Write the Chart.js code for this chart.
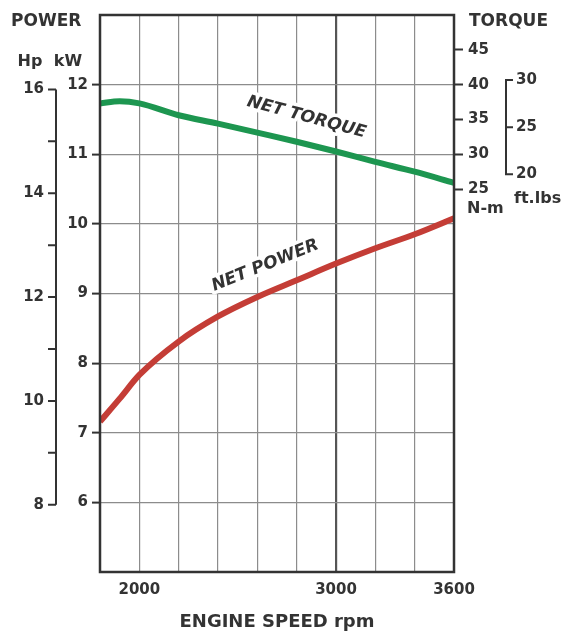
<!DOCTYPE html>
<html>
<head>
<meta charset="utf-8">
<script src="https://cdn.jsdelivr.net/npm/chart.js@4.4.1/dist/chart.umd.min.js"></script>
<style>
html, body { margin: 0; padding: 0; background: #fff; }
</style>
</head>
<body>
<canvas id="chart" width="563" height="633"></canvas>
<script>
// engine speed (rpm) and the two curves
let rpm = [1800, 1900, 2000, 2200, 2400, 2600, 2800, 3000, 3200, 3400, 3600];
let netTorqueNm = [37.3, 37.6, 37.3, 35.6, 34.4, 33.1, 31.8, 30.4, 28.9, 27.5, 25.9];
let netPowerKw = [7.16, 7.49, 7.83, 8.31, 8.67, 8.95, 9.19, 9.43, 9.65, 9.85, 10.08];

// tick labels
let rpmLabels = [2000, 3000, 3600];
let kwTicks = [6, 7, 8, 9, 10, 11, 12];
let nmTicks = [25, 30, 35, 40, 45];
let hpTicks = [8, 9, 10, 11, 12, 13, 14, 15, 16];
let ftlbTicks = [20, 25, 30];

const KW_PER_HP = 0.7457;
const NM_PER_FTLB = 1.3558;

const ink = "#333";
const gridGray = "#8c8c8c";
const green = "#1d9650";
const red = "#c43d36";
const face = '"DejaVu Sans", sans-serif';

function bold(size) { return { family: face, size: size, weight: "bold" }; }

let extras = {
    id: "extras",
    beforeDatasetsDraw(chart) {
        let ctx = chart.ctx;
        let x = chart.scales.x, kw = chart.scales.kw, nm = chart.scales.nm;
        ctx.save();
        ctx.font = 'italic bold 17px ' + face;
        ctx.textAlign = "center";
        ctx.textBaseline = "middle";
        ctx.lineJoin = "round";
        let labels = [
            ["NET TORQUE", x.getPixelForValue(2850), nm.getPixelForValue(35.3), 15],
            ["NET POWER", x.getPixelForValue(2640), kw.getPixelForValue(9.4), -22]
        ];
        labels.forEach(l => {
            ctx.save();
            ctx.translate(l[1], l[2]);
            ctx.rotate(l[3] * Math.PI / 180);
            ctx.strokeStyle = "#fff";
            ctx.lineWidth = 7;
            ctx.strokeText(l[0], 0, 0);
            ctx.fillStyle = ink;
            ctx.fillText(l[0], 0, 0);
            ctx.restore();
        });
        ctx.restore();
    },
    afterDraw(chart) {
        let ctx = chart.ctx;
        let a = chart.chartArea;
        let kw = chart.scales.kw, nm = chart.scales.nm;
        ctx.save();

        // frame
        ctx.strokeStyle = ink;
        ctx.lineWidth = 2.5;
        ctx.strokeRect(a.left, a.top, a.right - a.left, a.bottom - a.top);

        // Hp axis (same scale as kW)
        let hx = 56;
        ctx.lineWidth = 2;
        ctx.beginPath();
        ctx.moveTo(hx, kw.getPixelForValue(hpTicks[hpTicks.length - 1] * KW_PER_HP));
        ctx.lineTo(hx, kw.getPixelForValue(hpTicks[0] * KW_PER_HP));
        hpTicks.forEach(h => {
            let y = kw.getPixelForValue(h * KW_PER_HP);
            ctx.moveTo(hx, y);
            ctx.lineTo(hx - 8, y);
        });
        ctx.stroke();
        ctx.fillStyle = ink;
        ctx.font = 'bold 15px ' + face;
        ctx.textAlign = "right";
        ctx.textBaseline = "middle";
        hpTicks.forEach(h => {
            if (h % 2 == 0)
                ctx.fillText(h, hx - 12, kw.getPixelForValue(h * KW_PER_HP));
        });

        // ft.lbs bracket (same scale as N-m)
        let fx = 506;
        ctx.beginPath();
        let fTop = nm.getPixelForValue(ftlbTicks[ftlbTicks.length - 1] * NM_PER_FTLB);
        let fBot = nm.getPixelForValue(ftlbTicks[0] * NM_PER_FTLB);
        ctx.moveTo(fx, fTop);
        ctx.lineTo(fx, fBot);
        ftlbTicks.forEach(f => {
            let y = nm.getPixelForValue(f * NM_PER_FTLB);
            ctx.moveTo(fx - 1, y);
            ctx.lineTo(fx + 7, y);
        });
        ctx.stroke();
        ctx.textAlign = "left";
        ftlbTicks.forEach(f => {
            ctx.fillText(f, fx + 10, nm.getPixelForValue(f * NM_PER_FTLB));
        });

        // axis titles
        ctx.font = 'bold 17px ' + face;
        ctx.fillText("POWER", 11, 22);
        ctx.fillText("TORQUE", 469, 22);
        ctx.font = 'bold 16px ' + face;
        ctx.textAlign = "center";
        ctx.fillText("Hp", 30, 62);
        ctx.fillText("kW", 68, 62);
        ctx.textAlign = "left";
        ctx.fillText("N-m", 467, 209);
        ctx.fillText("ft.lbs", 514, 199);

        ctx.restore();
    }
};

let chart = new Chart(document.getElementById("chart"), {
    type: 'line',
    data: {
        datasets: [{
            label: 'NET TORQUE',
            data: rpm.map((r, i) => ({ x: r, y: netTorqueNm[i] })),
            yAxisID: 'nm',
            borderColor: green,
            borderWidth: 6,
            pointRadius: 0,
            cubicInterpolationMode: 'monotone'
        }, {
            label: 'NET POWER',
            data: rpm.map((r, i) => ({ x: r, y: netPowerKw[i] })),
            yAxisID: 'kw',
            borderColor: red,
            borderWidth: 6,
            pointRadius: 0,
            cubicInterpolationMode: 'monotone'
        }]
    },
    options: {
        responsive: false,
        animation: false,
        layout: { padding: { top: 15, left: 0, right: 0, bottom: 0 } },
        plugins: { legend: { display: false }, tooltip: { enabled: false } },
        scales: {
            x: {
                type: 'linear',
                min: 1800,
                max: 3600,
                afterBuildTicks: s => { s.ticks = rpm.filter(r => r % 200 == 0).map(v => ({ value: v })); },
                afterFit: s => { s.height = 61; },
                ticks: {
                    autoSkip: false,
                    maxRotation: 0,
                    padding: 9,
                    color: ink,
                    font: bold(15),
                    callback: v => rpmLabels.includes(v) ? v : ''
                },
                grid: {
                    drawTicks: false,
                    color: c => c.tick && c.tick.value == 3000 ? '#555' : gridGray,
                    lineWidth: c => c.tick && c.tick.value == 3000 ? 2.2 : 1.2
                },
                border: { display: false },
                title: {
                    display: true,
                    text: 'ENGINE SPEED rpm',
                    color: ink,
                    font: bold(18),
                    padding: { top: 2, bottom: 0 }
                }
            },
            kw: {
                type: 'linear',
                position: 'left',
                min: 5,
                max: 13,
                afterBuildTicks: s => { s.ticks = kwTicks.map(v => ({ value: v })); },
                afterFit: s => { s.width = 100; },
                ticks: { color: ink, font: bold(15), padding: 4 },
                grid: { color: gridGray, lineWidth: 1.2, tickLength: 8, tickColor: ink, tickWidth: 2 },
                border: { display: false }
            },
            nm: {
                type: 'linear',
                position: 'right',
                min: -30,
                max: 50,
                afterBuildTicks: s => { s.ticks = nmTicks.map(v => ({ value: v })); },
                afterFit: s => { s.width = 109; },
                ticks: { color: ink, font: bold(15), padding: 5 },
                grid: { drawOnChartArea: false, tickLength: 9, tickColor: ink, tickWidth: 2 },
                border: { display: false }
            }
        }
    },
    plugins: [extras]
});
</script>
</body>
</html>
